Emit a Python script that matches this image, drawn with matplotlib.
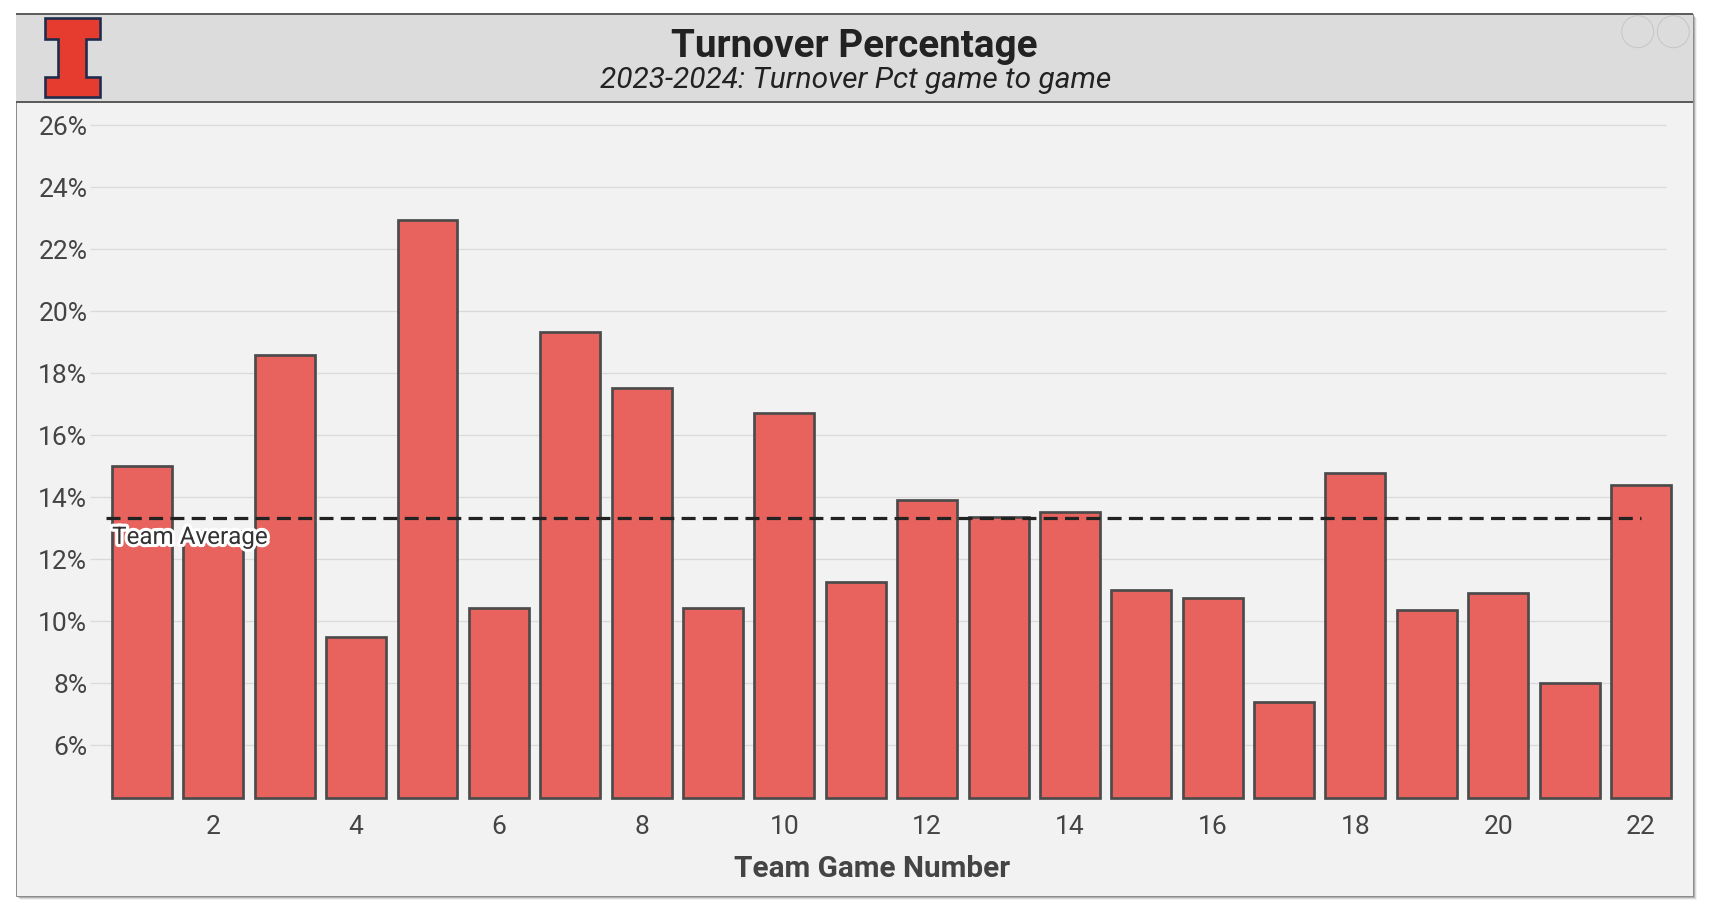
import matplotlib
matplotlib.use("Agg")
import matplotlib.pyplot as plt
from matplotlib.patches import Rectangle, Polygon, Ellipse
import matplotlib.patheffects as pe

# ---------------- data ----------------
games = list(range(1, 23))
turnover_pct = [15.0, 12.9, 18.6, 9.5, 22.95, 10.43, 19.32, 17.52, 10.43, 16.73, 11.28,
                13.91, 13.38, 13.54, 11.01, 10.76, 7.39, 14.78, 10.35, 10.91, 8.0, 14.40]
team_average = 13.32
y_ticks = [6, 8, 10, 12, 14, 16, 18, 20, 22, 24, 26]
y_tick_labels = [f"{v}%" for v in y_ticks]
x_ticks = [2, 4, 6, 8, 10, 12, 14, 16, 18, 20, 22]
x_tick_labels = [str(v) for v in x_ticks]
title = "Turnover Percentage"
subtitle = "2023-2024: Turnover Pct game to game"
x_label = "Team Game Number"
avg_label = "Team Average"

# ---------------- style ----------------
plt.rcParams["font.family"] = ["Roboto", "DejaVu Sans"]
W, H = 1722, 924
DPI = 100
PT = 72.0 / DPI  # points per pixel

fig = plt.figure(figsize=(W / DPI, H / DPI), dpi=DPI)
fig.patch.set_facecolor("white")


def rect_px(x0, y0, x1, y1, **kw):
    return Rectangle((x0 / W, 1 - y1 / H), (x1 - x0) / W, (y1 - y0) / H,
                     transform=fig.transFigure, **kw)


# card shadow
for i, a in enumerate([0.30, 0.18, 0.10, 0.05]):
    fig.add_artist(rect_px(16 + i + 1, 14 + i + 1, 1693 + i + 1, 896 + i + 1,
                           facecolor="black", alpha=a, edgecolor="none", zorder=-20 + i * 0.01))
# card
fig.add_artist(rect_px(16, 14, 1693, 896, facecolor="#F2F2F2", edgecolor="#8c8c8c",
                       linewidth=1.0 * PT, zorder=-10))
# header
fig.add_artist(rect_px(16, 14, 1693, 102, facecolor="#DCDCDC", edgecolor="none", zorder=-9))
fig.add_artist(rect_px(16, 13.5, 1693, 15, facecolor="#5e5e5e", edgecolor="none", zorder=-8))
fig.add_artist(rect_px(16, 101, 1693, 103, facecolor="#5c5c5c", edgecolor="none", zorder=-8))

# logo (block I)
logo_pts = [(45, 18), (100, 18), (100, 39), (86, 39), (86, 77), (100, 77), (100, 97),
            (45, 97), (45, 77), (58, 77), (58, 39), (45, 39)]
fig.add_artist(Polygon([(x / W, 1 - y / H) for x, y in logo_pts], closed=True,
                       transform=fig.transFigure, facecolor="#E63C2F",
                       edgecolor="#1E2B4C", linewidth=2.6 * PT, joinstyle="miter", zorder=-5))

# two circles top right
for cx in (1637.7, 1673.3):
    fig.add_artist(Ellipse((cx / W, 1 - 31.7 / H), 32 / W, 32 / H, transform=fig.transFigure,
                           facecolor="none", edgecolor="#c6c6c6", linewidth=1.0 * PT, zorder=-5))

# titles
fig.text(854.5 / W, 1 - 57 / H, title, ha="center", va="baseline", fontsize=27.8,
         fontweight="bold", color="#222222")
fig.text(856 / W, 1 - 88.5 / H, subtitle, ha="center", va="baseline", fontsize=21.5,
         fontstyle="italic", color="#222222")

# ---------------- axes ----------------
y_lo, y_hi = 4.2, 26.5
x_lo, x_hi = 0.27, 22.5
bar_base = 4.3
ax_left, ax_right = 89.9, 1676.6
ax_top = 125.3 + (26 - y_hi) * 31.0
ax_bot = 125.3 + (26 - y_lo) * 31.0
ax = fig.add_axes([ax_left / W, 1 - ax_bot / H, (ax_right - ax_left) / W, (ax_bot - ax_top) / H])
ax.set_facecolor("none")
ax.set_xlim(x_lo, x_hi)
ax.set_ylim(y_lo, y_hi)
for s in ax.spines.values():
    s.set_visible(False)

# gridlines
ax.hlines(y_ticks, 0.27, 22.35, colors="#DADADA", linewidth=1.3 * PT, zorder=1)

# bars
ax.bar(games, [v - bar_base for v in turnover_pct], bottom=bar_base, width=0.84,
       color="#E8635D", edgecolor="#4b4b4b", linewidth=2.7 * PT, zorder=2)

# team average
lw = 3.2 * PT
ax.plot([0.5, 22], [team_average, team_average], color="#222222", linewidth=lw,
        linestyle=(0, (14 * PT / lw, 7.3 * PT / lw)), zorder=3, solid_capstyle="butt",
        dash_capstyle="butt")
ax.annotate(avg_label, xy=(0.5, team_average), xytext=(4.2, -18.4), textcoords="offset points",
            ha="left", va="baseline", fontsize=17.4, color="#333333", zorder=4,
            path_effects=[pe.withStroke(linewidth=4.5, foreground="white")])

# ticks
ax.set_yticks(y_ticks, y_tick_labels)
ax.set_xticks(x_ticks, x_tick_labels)
ax.tick_params(axis="both", length=0, labelsize=19, labelcolor="#444444")
ax.tick_params(axis="y", pad=1.9)
ax.tick_params(axis="x", pad=10)

ax.set_xlabel(x_label, fontsize=21.4, fontweight="bold", color="#444444", va="baseline")
ax.xaxis.set_label_coords((871.7 - ax_left) / (ax_right - ax_left), (ax_bot - 877.3) / (ax_bot - ax_top))

fig.savefig("out.png", dpi=DPI, facecolor="white")
